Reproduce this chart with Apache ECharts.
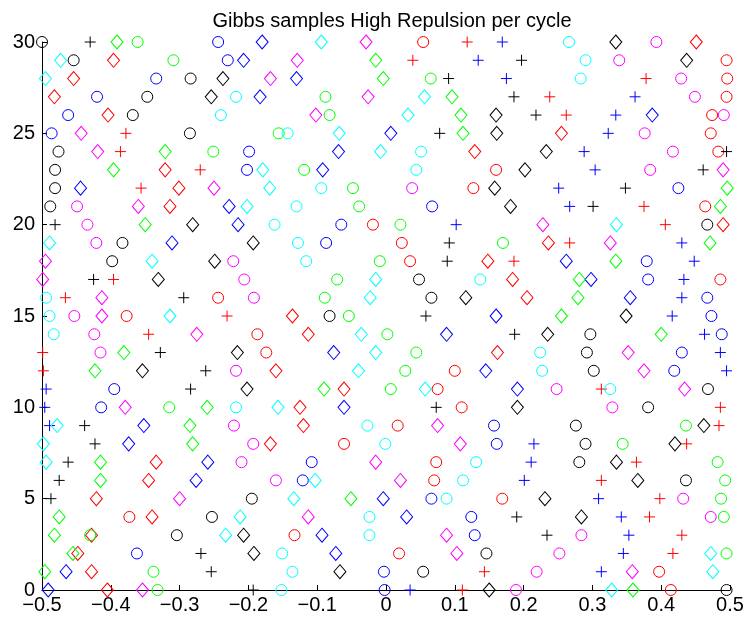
<!DOCTYPE html>
<html><head><meta charset="utf-8">
<script src="https://cdn.jsdelivr.net/npm/echarts@6/dist/echarts.min.js"></script>
<style>html,body{margin:0;padding:0;background:#fff}#c{width:748px;height:622px}</style>
</head><body><div id="c"></div>
<script>
// cycle index (y) 0..30
const cycles = [0,1,2,3,4,5,6,7,8,9,10,11,12,13,14,15,16,17,18,19,20,21,22,23,24,25,26,27,28,29,30];
const xTicks = [-0.5,-0.4,-0.3,-0.2,-0.1,0,0.1,0.2,0.3,0.4,0.5];
const yTicks = [0,5,10,15,20,25,30];

// x position of each sample, indexed by cycle
const blueCircle   = [-0.002,-0.003,-0.362,0.129,0.124,0.066,-0.121,-0.108,0.161,0.157,-0.414,-0.395,0.419,0.430,0.488,0.473,0.467,0.381,0.379,-0.087,-0.065,0.067,0.425,-0.202,-0.199,-0.486,-0.462,-0.420,-0.334,-0.230,-0.244];
const bluePlus     = [0.035,0.313,0.345,0.353,0.342,0.309,0.201,0.211,0.215,-0.489,-0.496,-0.494,0.495,0.486,0.463,0.416,0.430,0.433,0.448,0.430,0.102,0.267,0.251,0.304,0.288,0.323,0.334,0.362,0.175,0.134,0.169];
const blueDiamond  = [-0.491,-0.465,-0.073,-0.093,0.030,-0.004,-0.276,-0.259,-0.374,-0.352,-0.061,0.191,0.145,-0.076,0.088,0.160,0.355,0.298,0.262,-0.311,-0.215,-0.228,-0.444,-0.092,-0.069,0.007,0.387,-0.183,-0.130,-0.207,-0.180];
const redCircle    = [0.414,0.397,0.019,-0.133,-0.373,0.169,0.070,0.073,-0.061,0.017,0.110,0.075,0.100,-0.174,-0.187,-0.377,-0.244,0.486,0.035,0.023,-0.019,0.464,0.127,0.160,0.483,0.472,0.474,0.495,0.496,0.495,0.054];
const redPlus      = [0.111,0.143,0.417,0.430,0.383,0.398,0.313,0.364,0.437,0.484,0.486,0.313,-0.498,-0.499,-0.345,-0.231,-0.466,-0.396,0.186,0.267,0.406,0.375,-0.356,-0.270,-0.386,-0.378,0.262,0.238,0.378,0.039,0.118];
const redDiamond   = [-0.405,-0.428,-0.448,-0.428,-0.340,-0.421,-0.345,-0.334,-0.168,-0.120,-0.125,-0.061,-0.160,0.162,-0.113,-0.136,0.205,0.184,0.148,0.236,0.490,-0.314,-0.301,-0.321,0.129,0.255,-0.404,-0.482,-0.454,-0.396,0.451];
const greenCircle  = [-0.332,-0.338,0.495,-0.430,0.491,0.487,0.493,0.482,0.344,0.436,-0.315,0.007,0.028,0.044,0.002,-0.054,-0.089,-0.071,-0.009,0.170,0.021,-0.039,-0.048,-0.119,-0.251,-0.156,-0.082,-0.088,0.065,-0.309,-0.361];
const greenDiamond = [0.359,-0.496,-0.455,-0.482,-0.475,-0.051,-0.415,-0.415,-0.281,-0.285,-0.260,-0.090,-0.423,-0.381,0.400,0.255,0.279,0.281,0.334,0.471,-0.350,0.486,0.496,-0.396,-0.321,0.112,0.109,0.096,-0.004,-0.015,-0.391];
const cyanCircle   = [-0.152,-0.136,-0.151,-0.024,-0.024,0.088,0.112,0.131,-0.001,-0.027,-0.218,0.326,0.227,0.224,-0.483,-0.489,-0.494,0.137,-0.116,-0.128,-0.162,-0.130,-0.094,0.044,0.051,-0.143,-0.240,-0.218,0.283,0.290,0.266];
const cyanDiamond  = [0.328,0.475,0.472,-0.233,-0.212,-0.134,-0.103,-0.494,-0.498,-0.478,-0.157,0.057,-0.040,-0.015,-0.036,-0.314,-0.023,-0.015,-0.340,-0.489,0.335,-0.202,-0.169,-0.179,-0.008,-0.068,0.032,0.056,-0.495,-0.473,-0.094];
const magentaCircle  = [0.189,0.219,0.252,0.284,0.472,0.432,-0.160,-0.210,-0.193,-0.221,0.329,0.248,-0.218,-0.415,-0.424,-0.453,-0.192,-0.206,-0.222,-0.421,-0.434,-0.449,0.038,0.384,0.417,0.376,0.491,0.449,0.429,0.339,0.393];
const magentaDiamond = [-0.354,0.358,0.103,0.088,-0.113,-0.300,0.021,-0.015,0.108,0.075,-0.379,0.434,0.375,0.352,-0.275,-0.413,-0.413,-0.499,-0.495,0.326,0.228,-0.360,-0.250,0.490,-0.419,-0.443,-0.102,-0.026,-0.168,-0.129,-0.029];
const blackCircle  = [0.495,0.054,0.146,-0.304,-0.253,-0.195,0.436,0.281,0.290,0.276,0.381,0.468,0.302,0.292,0.297,-0.082,0.066,0.048,-0.398,-0.383,0.467,-0.488,-0.481,-0.481,-0.476,-0.285,-0.368,-0.347,-0.284,-0.454,-0.500];
const blackPlus    = [-0.193,-0.254,-0.269,0.234,0.190,-0.487,-0.475,-0.462,-0.423,-0.438,0.073,-0.284,-0.262,-0.328,0.187,0.058,-0.294,-0.425,0.089,0.092,-0.481,0.301,0.348,0.461,0.495,0.078,0.218,0.186,0.091,0.197,-0.430];
const blackDiamond = [0.150,-0.067,-0.192,-0.207,0.284,0.231,0.366,0.335,0.420,0.462,0.191,-0.202,-0.354,-0.216,0.235,0.349,0.116,-0.331,-0.249,-0.193,-0.281,0.181,0.158,0.202,0.233,0.161,0.160,-0.254,-0.237,0.437,0.334];

const COL = {b:'#0000FF', r:'#FF0000', g:'#00FF00', c:'#00FFFF', m:'#FF00FF', k:'#000000'};
const MARK = {
  o: {symbol:'circle', size:11},
  p: {symbol:'path://M0,6H12M6,0V12', size:11},
  d: {symbol:'diamond', size:[12,14]}
};
const seriesDefs = [
  ['b','o',blueCircle],['b','p',bluePlus],['b','d',blueDiamond],
  ['r','o',redCircle],['r','p',redPlus],['r','d',redDiamond],
  ['g','o',greenCircle],['g','d',greenDiamond],
  ['c','o',cyanCircle],['c','d',cyanDiamond],
  ['m','o',magentaCircle],['m','d',magentaDiamond],
  ['k','o',blackCircle],['k','p',blackPlus],['k','d',blackDiamond]
];

const FONT = '"Liberation Sans", Arial, Helvetica, sans-serif';
const fmtX = v => { const r = Math.round(v*10)/10; if (r === 0) return '0'; return (r<0?'\u2212':'') + Math.abs(r).toFixed(1); };

const chart = echarts.init(document.getElementById('c'), null, {renderer:'canvas'});
chart.setOption({
  animation: false,
  backgroundColor: '#fff',
  title: {
    text: 'Gibbs samples High Repulsion per cycle',
    left: 387, textAlign: 'center', top: 6,
    textStyle: {fontFamily: FONT, fontSize: 20, fontWeight: 'normal', color: '#000'}
  },
  grid: {left: 42, right: 18, top: 42, bottom: 32, containLabel: false},
  xAxis: {
    type: 'value', min: -0.5, max: 0.5, interval: 0.1,
    axisLine: {show: true, onZero: false, lineStyle: {color: '#000', width: 1}},
    axisTick: {show: true, inside: true, length: 5, lineStyle: {color: '#000'}},
    axisLabel: {color: '#000', fontFamily: FONT, fontSize: 20, margin: 5, formatter: fmtX},
    splitLine: {show: false}
  },
  yAxis: {
    type: 'value', min: 0, max: 30, interval: 5,
    axisLine: {show: true, onZero: false, lineStyle: {color: '#000', width: 1}},
    axisTick: {show: true, inside: true, length: 5, lineStyle: {color: '#000'}},
    axisLabel: {color: '#000', fontFamily: FONT, fontSize: 20, margin: 7},
    splitLine: {show: false}
  },
  series: seriesDefs.map(([c, m, xs]) => ({
    type: 'scatter',
    clip: false,
    symbol: MARK[m].symbol,
    symbolSize: MARK[m].size,
    itemStyle: {color: 'rgba(0,0,0,0)', borderColor: COL[c], borderWidth: 1, opacity: 1},
    emphasis: {disabled: true},
    data: xs.map((x, i) => [x, cycles[i]])
  }))
});
</script></body></html>
